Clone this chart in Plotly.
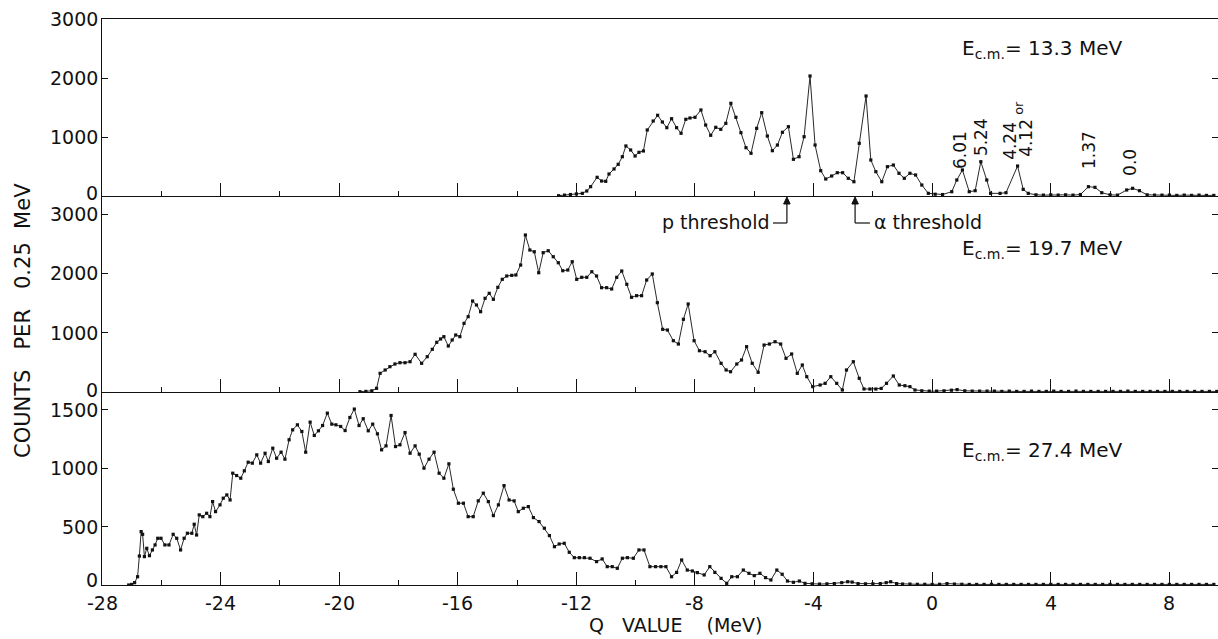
import plotly.graph_objects as go
from plotly.subplots import make_subplots

# ---------------- data (Q value in MeV, counts per 0.25 MeV) ----------------
q_133 = [
    -12.6, -12.4, -12.2, -12.0, -11.8,
    -11.65, -11.52, -11.3, -11.15, -11.01,
    -10.9, -10.73, -10.59, -10.45, -10.33,
    -10.17, -10.02, -9.89, -9.74, -9.61,
    -9.41, -9.26, -9.1, -8.95, -8.79,
    -8.62, -8.47, -8.31, -8.17, -8.0,
    -7.8, -7.64, -7.47, -7.3, -7.13,
    -6.96, -6.79, -6.62, -6.45, -6.28,
    -6.11, -5.92, -5.75, -5.56, -5.39,
    -5.22, -5.05, -4.85, -4.68, -4.49,
    -4.32, -4.12, -3.95, -3.76, -3.59,
    -3.39, -3.2, -3.02, -2.83, -2.64,
    -2.46, -2.23, -2.07, -1.9, -1.7,
    -1.51, -1.31, -1.12, -0.94, -0.75,
    -0.56, -0.35, -0.13, 0.1, 0.35,
    0.66, 0.83, 1.02, 1.25, 1.45,
    1.64, 1.84, 1.97, 2.29, 2.49,
    2.88, 3.07, 3.24, 3.5, 3.75,
    4.0, 4.25, 4.5, 4.75, 5.0,
    5.27, 5.49, 5.72, 6.0, 6.25,
    6.56, 6.76, 6.99, 7.25, 7.5,
    7.75, 8.0, 8.25, 8.5, 8.75,
    9.0, 9.25, 9.5,
]
counts_133 = [
    5, 15, 25, 35, 45,
    85, 158, 317, 254, 249,
    373, 458, 537, 666, 848,
    780, 678, 740, 763, 1119,
    1271, 1368, 1254, 1158, 1310,
    1158, 1063, 1300, 1322, 1334,
    1458, 1203, 1029, 1164, 1130,
    1232, 1571, 1334, 1073, 819,
    724, 1147, 1412, 1017, 768,
    864, 1080, 1175, 622, 666,
    1005, 2034, 864, 429, 288,
    339, 395, 395, 300, 242,
    893, 1695, 610, 412, 242,
    497, 525, 385, 300, 385,
    356, 186, 45, 30, 25,
    73, 271, 441, 73, 90,
    581, 271, 45, 45, 56,
    508, 113, 45, 20, 15,
    20, 15, 20, 15, 25,
    158, 147, 56, 20, 15,
    102, 130, 90, 20, 15,
    15, 15, 10, 15, 10,
    15, 10, 10,
]

q_197 = [
    -19.3, -19.1, -18.9, -18.74, -18.62,
    -18.45, -18.29, -18.12, -17.95, -17.78,
    -17.61, -17.44, -17.22, -17.03, -16.86,
    -16.71, -16.58, -16.47, -16.32, -16.19,
    -16.07, -15.93, -15.79, -15.65, -15.5,
    -15.37, -15.23, -15.08, -14.94, -14.8,
    -14.65, -14.5, -14.35, -14.18, -14.04,
    -13.88, -13.72, -13.57, -13.42, -13.27,
    -13.12, -12.95, -12.78, -12.61, -12.46,
    -12.29, -12.14, -11.99, -11.82, -11.65,
    -11.48, -11.32, -11.15, -10.98, -10.81,
    -10.64, -10.47, -10.3, -10.14, -9.97,
    -9.8, -9.63, -9.44, -9.27, -9.09,
    -8.93, -8.73, -8.56, -8.39, -8.23,
    -8.03, -7.85, -7.66, -7.49, -7.33,
    -7.12, -6.95, -6.8, -6.59, -6.43,
    -6.26, -6.07, -5.87, -5.67, -5.49,
    -5.3, -5.11, -4.93, -4.74, -4.55,
    -4.38, -4.23, -4.03, -3.78, -3.61,
    -3.42, -3.22, -3.03, -2.89, -2.66,
    -2.46, -2.3, -2.1, -1.9, -1.72,
    -1.54, -1.31, -1.11, -0.92, -0.75,
    -0.58, -0.35, -0.1, 0.15, 0.4,
    0.65, 0.84, 1.1, 1.35, 1.6,
    1.85, 2.1, 2.35, 2.6, 2.85,
    3.1, 3.35, 3.6, 3.85, 4.1,
    4.35, 4.6, 4.85, 5.1, 5.35,
    5.6, 5.85, 6.1, 6.35, 6.6,
    6.85, 7.1, 7.35, 7.6, 7.85,
    8.1, 8.35, 8.6, 8.85, 9.1,
    9.35, 9.6,
]
counts_197 = [
    5, 10, 20, 62, 315,
    371, 427, 472, 494, 494,
    511, 636, 484, 595, 720,
    838, 894, 933, 776, 877,
    961, 933, 1158, 1270, 1534,
    1467, 1354, 1580, 1664, 1563,
    1765, 1900, 1956, 1967, 1973,
    2141, 2647, 2394, 2365, 2011,
    2349, 2382, 2281, 2180, 2045,
    2057, 2197, 1900, 1934, 1934,
    2028, 1956, 1759, 1759, 1737,
    1934, 2040, 1816, 1597, 1624,
    1624, 1888, 1990, 1506, 1057,
    1045, 865, 809, 1226, 1484,
    865, 696, 679, 612, 679,
    484, 371, 342, 472, 540,
    764, 484, 332, 792, 809,
    848, 809, 568, 641, 315,
    455, 258, 90, 118, 146,
    258, 146, 34, 371, 511,
    231, 51, 50, 50, 60,
    146, 270, 118, 106, 90,
    34, 20, 15, 15, 20,
    30, 40, 20, 15, 15,
    15, 15, 10, 15, 10,
    10, 15, 10, 10, 15,
    10, 10, 15, 10, 10,
    10, 10, 10, 10, 15,
    10, 10, 10, 10, 10,
    10, 10, 10, 10, 10,
    10, 10,
]

q_274 = [
    -27.1, -27.0, -26.9, -26.8, -26.74,
    -26.68, -26.63, -26.57, -26.49, -26.4,
    -26.3, -26.21, -26.12, -26.01, -25.88,
    -25.74, -25.6, -25.48, -25.35, -25.23,
    -25.12, -24.97, -24.89, -24.81, -24.72,
    -24.6, -24.47, -24.36, -24.27, -24.17,
    -24.02, -23.91, -23.79, -23.68, -23.59,
    -23.46, -23.32, -23.2, -23.07, -22.93,
    -22.78, -22.65, -22.5, -22.39, -22.24,
    -22.11, -21.96, -21.83, -21.69, -21.57,
    -21.41, -21.26, -21.13, -20.98, -20.84,
    -20.7, -20.56, -20.4, -20.25, -20.11,
    -19.95, -19.8, -19.64, -19.49, -19.33,
    -19.19, -19.02, -18.87, -18.71, -18.57,
    -18.42, -18.25, -18.1, -17.95, -17.78,
    -17.61, -17.44, -17.3, -17.14, -16.97,
    -16.8, -16.63, -16.47, -16.3, -16.15,
    -15.98, -15.81, -15.65, -15.48, -15.31,
    -15.14, -14.97, -14.8, -14.63, -14.44,
    -14.27, -14.1, -13.96, -13.79, -13.62,
    -13.45, -13.26, -13.08, -12.91, -12.74,
    -12.58, -12.41, -12.24, -12.07, -11.9,
    -11.73, -11.54, -11.32, -11.13, -10.96,
    -10.79, -10.62, -10.45, -10.28, -10.08,
    -9.89, -9.72, -9.52, -9.33, -9.15,
    -8.98, -8.79, -8.62, -8.45, -8.26,
    -8.09, -7.92, -7.69, -7.5, -7.33,
    -7.12, -6.93, -6.76, -6.57, -6.37,
    -6.18, -6.0, -5.81, -5.62, -5.44,
    -5.24, -5.06, -4.88, -4.68, -4.48,
    -4.29, -4.05, -3.8, -3.55, -3.3,
    -3.05, -2.85, -2.7, -2.5, -2.25,
    -2.0, -1.75, -1.55, -1.4, -1.2,
    -1.0, -0.75, -0.5, -0.25, 0.0,
    0.25, 0.5, 0.75, 1.0, 1.25,
    1.5, 1.75, 2.0, 2.25, 2.5,
    2.75, 3.0, 3.25, 3.5, 3.75,
    4.0, 4.25, 4.5, 4.75, 5.0,
    5.25, 5.5, 5.75, 6.0, 6.25,
    6.5, 6.75, 7.0, 7.25, 7.5,
    7.75, 8.0, 8.25, 8.5, 8.75,
    9.0, 9.25, 9.5,
]
counts_274 = [
    0, 5, 20, 71, 248,
    457, 434, 243, 314, 251,
    300, 343, 400, 400, 343,
    343, 434, 400, 300, 400,
    443, 443, 520, 428, 600,
    585, 614, 585, 714, 628,
    686, 743, 771, 728, 957,
    937, 914, 977, 1051, 1043,
    1114, 1043, 1128, 1057, 1171,
    1085, 1137, 1077, 1243, 1328,
    1371, 1314, 1137, 1394, 1280,
    1320, 1365, 1471, 1377, 1371,
    1357, 1322, 1434, 1506, 1365,
    1423, 1320, 1377, 1294, 1157,
    1191, 1451, 1185, 1200, 1305,
    1128, 1191, 1120, 1000, 1077,
    1137, 957, 914, 1037, 820,
    700, 700, 585, 585, 720,
    786, 714, 594, 686, 851,
    728, 720, 628, 657, 671,
    577, 543, 486, 423, 328,
    351, 357, 280, 234, 234,
    234, 229, 200, 223, 157,
    157, 143, 229, 234, 229,
    300, 300, 157, 157, 157,
    157, 71, 108, 214, 128,
    120, 106, 86, 157, 108,
    57, 14, 71, 71, 128,
    100, 80, 100, 63, 43,
    128, 92, 34, 23, 34,
    14, 10, 8, 10, 12,
    20, 28, 25, 12, 10,
    10, 12, 20, 28, 12,
    8, 8, 6, 6, 5,
    6, 12, 8, 6, 5,
    5, 5, 6, 5, 5,
    5, 5, 5, 5, 5,
    5, 5, 5, 5, 5,
    5, 5, 5, 5, 5,
    5, 5, 5, 5, 5,
    5, 5, 5, 5, 5,
    5, 5, 5,
]

energy_labels = ["13.3", "19.7", "27.4"]
x_ticks = [-28, -24, -20, -16, -12, -8, -4, 0, 4, 8]
x_minor = [-26, -22, -18, -14, -10, -6, -2, 2, 6]
y_ticks_top = [0, 1000, 2000, 3000]
y_ticks_mid = [0, 1000, 2000, 3000]
y_ticks_bot = [0, 500, 1000, 1500]
state_labels = ["6.01", "5.24", "4.24", "4.12", "1.37", "0.0"]
state_q = [0.94, 1.65, 2.62, 3.16, 5.29, 6.67]
p_threshold_q = -4.9
alpha_threshold_q = -2.6

# ---------------- geometry helpers ----------------
W, H = 1218, 639
L, T, B = 102, 19, 54
PX0, PX1, PY0, PY1 = L, W, T, H - B


def fx(xp):
    return (xp - PX0) / (PX1 - PX0)


def fy(yp):
    return (PY1 - yp) / (PY1 - PY0)


FONT = "DejaVu Sans"
BLACK = "#111111"

fig = make_subplots(rows=3, cols=1, shared_xaxes=True, vertical_spacing=0)

series = [(q_133, counts_133), (q_197, counts_197), (q_274, counts_274)]
for i, (qq, cc) in enumerate(series):
    fig.add_trace(
        go.Scatter(
            x=qq, y=cc, mode="lines+markers",
            line=dict(color=BLACK, width=0.9),
            marker=dict(symbol="square", size=3.2, color=BLACK),
            showlegend=False, hoverinfo="skip",
        ),
        row=i + 1, col=1,
    )

xr = [-28, 9.64]
xcommon = dict(
    range=xr, showline=True, linecolor=BLACK, linewidth=1.3,
    ticks="inside", ticklen=13, tickwidth=1.3, tickcolor=BLACK,
    tickvals=x_ticks,
    minor=dict(tickvals=x_minor, ticks="inside", ticklen=5, tickwidth=1.2, tickcolor=BLACK),
    showgrid=False, zeroline=False, showticklabels=False,
)
fig.update_layout(
    xaxis=dict(**xcommon, mirror=True, domain=[0, 1]),
    xaxis2=dict(**xcommon, domain=[0, 1]),
    xaxis3=dict(**xcommon, domain=[0, 1]),
)

ycommon = dict(
    showline=True, linecolor=BLACK, linewidth=1.3,
    ticks="inside", ticklen=6, tickwidth=1.3, tickcolor=BLACK,
    mirror="ticks", showgrid=False, zeroline=False, showticklabels=False,
)
d1 = fy(196)
d2 = fy(392)
fig.update_layout(
    yaxis=dict(**ycommon, range=[0, 3000], tickvals=y_ticks_top, domain=[d1, 1]),
    yaxis2=dict(**ycommon, range=[0, 3305], tickvals=y_ticks_mid, domain=[d2, d1]),
    yaxis3=dict(**ycommon, range=[0, 1652], tickvals=y_ticks_bot, domain=[0, d2]),
)

ann = []
tickfont = dict(family=FONT, size=19, color=BLACK)

# y tick labels (placed on each panel's own axis)
for yref, vals, zero_shift in (("y", y_ticks_top, 3), ("y2", y_ticks_mid, 2), ("y3", y_ticks_bot, 5)):
    for v in vals:
        ann.append(dict(
            text=str(v), xref="paper", x=0, xanchor="right", xshift=-2,
            yref=yref, y=v, yanchor="middle", yshift=zero_shift if v == 0 else 0,
            showarrow=False, font=tickfont,
        ))

# x tick labels (bottom axis, hyphen minus as in the original)
for v in x_ticks:
    ann.append(dict(
        text=str(v), xref="x3", x=v, xanchor="center",
        yref="paper", y=0, yanchor="top", yshift=-5,
        showarrow=False, font=tickfont,
    ))

txt = dict(family=FONT, size=20, color=BLACK)
# energy labels
for lab, ypix in zip(energy_labels, [49, 249, 451]):
    ann.append(dict(
        text="E<sub>c.m.</sub>= " + lab + " MeV", xref="paper", yref="paper",
        x=fx(960), y=fy(ypix), xanchor="left", yanchor="middle",
        showarrow=False, font=txt,
    ))

# state labels (rotated)
label_pix_y = [150, 137, 141, 138, 150, 162]
for lab, q, yp in zip(state_labels, state_q, label_pix_y):
    ann.append(dict(
        text=lab, xref="x", yref="paper", x=q, y=fy(yp),
        xanchor="center", yanchor="middle", textangle=-90,
        showarrow=False, font=dict(family=FONT, size=17, color=BLACK),
    ))
ann.append(dict(
    text="or", xref="x", yref="paper", x=2.89, y=fy(108),
    xanchor="center", yanchor="middle", textangle=-90,
    showarrow=False, font=dict(family=FONT, size=13, color=BLACK),
))

# threshold labels
ann.append(dict(
    text="p threshold", xref="x", yref="paper", x=p_threshold_q - 0.5, y=fy(222),
    xanchor="right", yanchor="middle", showarrow=False,
    font=dict(family=FONT, size=19, color=BLACK),
))
ann.append(dict(
    text="\u03b1 threshold", xref="x", yref="paper", x=alpha_threshold_q + 0.58, y=fy(222),
    xanchor="left", yanchor="middle", showarrow=False,
    font=dict(family=FONT, size=19, color=BLACK),
))

# axis titles
ann.append(dict(
    text="Q\u00a0\u00a0\u00a0VALUE\u00a0\u00a0\u00a0\u00a0(MeV)", xref="paper", yref="paper",
    x=fx(675), y=fy(625), xanchor="center", yanchor="middle",
    showarrow=False, font=dict(family=FONT, size=19, color=BLACK),
))
ann.append(dict(
    text="COUNTS\u00a0\u00a0\u00a0PER\u00a0\u00a0\u00a00.25\u00a0\u00a0MeV", xref="paper", yref="paper",
    x=fx(23), y=fy(321), xanchor="center", yanchor="middle", textangle=-90,
    showarrow=False, font=dict(family=FONT, size=21, color=BLACK),
))

# threshold brackets: vertical arrow up to the top panel's axis + short horizontal leg
shapes = []
ypix_br = 223
y_axis_px = 196
dq_head = 0.11
for q, leg in ((p_threshold_q, -0.47), (alpha_threshold_q, 0.5)):
    shapes.append(dict(type="line", xref="x", yref="paper",
                       x0=q, x1=q, y0=fy(ypix_br), y1=fy(y_axis_px + 6),
                       line=dict(color=BLACK, width=1.2)))
    shapes.append(dict(type="line", xref="x", yref="paper",
                       x0=q, x1=q + leg, y0=fy(ypix_br), y1=fy(ypix_br),
                       line=dict(color=BLACK, width=1.2)))
    shapes.append(dict(type="path", xref="x", yref="paper",
                       path=f"M {q - dq_head},{fy(y_axis_px + 8)} L {q},{fy(y_axis_px + 1)} "
                            f"L {q + dq_head},{fy(y_axis_px + 8)} Z",
                       fillcolor=BLACK, line=dict(color=BLACK, width=1)))

fig.update_layout(
    width=W, height=H,
    margin=dict(l=L, r=0, t=T, b=B, autoexpand=False),
    paper_bgcolor="white", plot_bgcolor="white",
    annotations=ann, shapes=shapes,
    font=dict(family=FONT, color=BLACK),
    showlegend=False,
)

fig.write_html(
    "out.html",
    config={"displayModeBar": False},
    post_script="document.body.style.margin='0px';",
)
